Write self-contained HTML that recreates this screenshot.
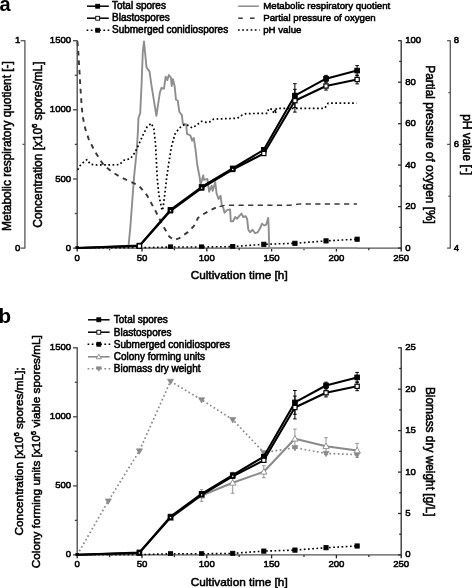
<!DOCTYPE html>
<html lang="en"><head><meta charset="utf-8"><title>Spore concentration during cultivation</title>
<style>
html,body{margin:0;padding:0;background:#fff;}
body{width:472px;height:588px;overflow:hidden;}
svg{display:block;}
svg text{font-family:"Liberation Sans",Arial,Helvetica,sans-serif;fill:#000;stroke:#000;stroke-width:0.55px;}
</style></head><body>
<svg width="472" height="588" viewBox="0 0 472 588">
<rect x="0" y="0" width="472" height="588" fill="#fff"/>
<text x="-0.5" y="11.0" font-size="20" text-anchor="start" font-weight="bold" style="stroke:none">a</text>
<line x1="87.0" y1="6.2" x2="108.8" y2="6.2" stroke="#000" stroke-width="1.5" />
<rect x="95.75" y="4.30" width="3.9" height="3.9" fill="#000" stroke="#000" stroke-width="0.9"/>
<text x="112.0" y="9.3" font-size="10.0" text-anchor="start" >Total spores</text>
<line x1="87.0" y1="18.2" x2="108.8" y2="18.2" stroke="#000" stroke-width="1.5" />
<rect x="95.75" y="16.30" width="3.9" height="3.9" fill="#fff" stroke="#000" stroke-width="0.9"/>
<text x="112.0" y="21.4" font-size="10.0" text-anchor="start" >Blastospores</text>
<line x1="86.6" y1="30.2" x2="109.6" y2="30.2" stroke="#000" stroke-width="1.5" stroke-dasharray="1.7 2.5"/>
<rect x="95.75" y="28.30" width="3.9" height="3.9" fill="#000" stroke="#000" stroke-width="0.9"/>
<text x="112.0" y="33.4" font-size="10.0" text-anchor="start" >Submerged conidiospores</text>
<line x1="238.2" y1="6.2" x2="258.8" y2="6.2" stroke="#8a8a8a" stroke-width="1.5" />
<line x1="238.2" y1="18.2" x2="242.8" y2="18.2" stroke="#383838" stroke-width="1.5" />
<line x1="250.0" y1="18.2" x2="254.6" y2="18.2" stroke="#383838" stroke-width="1.5" />
<line x1="238.0" y1="29.9" x2="259.6" y2="29.9" stroke="#000" stroke-width="1.5" stroke-dasharray="1.7 2.5"/>
<text x="263.2" y="9.3" font-size="9.7" text-anchor="start" >Metabolic respiratory quotient</text>
<text x="263.2" y="21.4" font-size="9.7" text-anchor="start" >Partial pressure of oxygen</text>
<text x="263.2" y="33.4" font-size="9.7" text-anchor="start" >pH value</text>
<line x1="24.9" y1="248.6" x2="24.9" y2="40.2" stroke="#555" stroke-width="1.3" />
<line x1="20.7" y1="248.1" x2="24.9" y2="248.1" stroke="#555" stroke-width="1.3" />
<text x="20.3" y="250.6" font-size="9.6" text-anchor="end" >0</text>
<line x1="22.5" y1="144.4" x2="24.9" y2="144.4" stroke="#555" stroke-width="1.3" />
<line x1="20.7" y1="40.7" x2="24.9" y2="40.7" stroke="#555" stroke-width="1.3" />
<text x="20.3" y="43.2" font-size="9.6" text-anchor="end" >1</text>
<line x1="77.2" y1="248.6" x2="77.2" y2="40.2" stroke="#444" stroke-width="1.3" />
<line x1="73.0" y1="248.1" x2="77.2" y2="248.1" stroke="#444" stroke-width="1.3" />
<text x="71.2" y="250.6" font-size="9.6" text-anchor="end" >0</text>
<line x1="74.8" y1="213.5" x2="77.2" y2="213.5" stroke="#444" stroke-width="1.3" />
<line x1="73.0" y1="179.0" x2="77.2" y2="179.0" stroke="#444" stroke-width="1.3" />
<text x="71.2" y="181.5" font-size="9.6" text-anchor="end" >500</text>
<line x1="74.8" y1="144.4" x2="77.2" y2="144.4" stroke="#444" stroke-width="1.3" />
<line x1="73.0" y1="109.8" x2="77.2" y2="109.8" stroke="#444" stroke-width="1.3" />
<text x="71.2" y="112.3" font-size="9.6" text-anchor="end" >1000</text>
<line x1="74.8" y1="75.3" x2="77.2" y2="75.3" stroke="#444" stroke-width="1.3" />
<line x1="73.0" y1="40.7" x2="77.2" y2="40.7" stroke="#444" stroke-width="1.3" />
<text x="71.2" y="43.2" font-size="9.6" text-anchor="end" >1500</text>
<line x1="76.7" y1="248.1" x2="401.7" y2="248.1" stroke="#555" stroke-width="1.3" />
<line x1="77.2" y1="248.1" x2="77.2" y2="251.5" stroke="#222" stroke-width="1.3" />
<text x="77.2" y="260.6" font-size="9.6" text-anchor="middle" >0</text>
<line x1="109.6" y1="248.1" x2="109.6" y2="250.3" stroke="#333" stroke-width="1.3" />
<line x1="142.0" y1="248.1" x2="142.0" y2="251.5" stroke="#222" stroke-width="1.3" />
<text x="142.0" y="260.6" font-size="9.6" text-anchor="middle" >50</text>
<line x1="174.4" y1="248.1" x2="174.4" y2="250.3" stroke="#333" stroke-width="1.3" />
<line x1="206.8" y1="248.1" x2="206.8" y2="251.5" stroke="#222" stroke-width="1.3" />
<text x="206.8" y="260.6" font-size="9.6" text-anchor="middle" >100</text>
<line x1="239.2" y1="248.1" x2="239.2" y2="250.3" stroke="#333" stroke-width="1.3" />
<line x1="271.6" y1="248.1" x2="271.6" y2="251.5" stroke="#222" stroke-width="1.3" />
<text x="271.6" y="260.6" font-size="9.6" text-anchor="middle" >150</text>
<line x1="304.0" y1="248.1" x2="304.0" y2="250.3" stroke="#333" stroke-width="1.3" />
<line x1="336.4" y1="248.1" x2="336.4" y2="251.5" stroke="#222" stroke-width="1.3" />
<text x="336.4" y="260.6" font-size="9.6" text-anchor="middle" >200</text>
<line x1="368.8" y1="248.1" x2="368.8" y2="250.3" stroke="#333" stroke-width="1.3" />
<line x1="401.2" y1="248.1" x2="401.2" y2="251.5" stroke="#222" stroke-width="1.3" />
<text x="401.2" y="260.6" font-size="9.6" text-anchor="middle" >250</text>
<line x1="401.2" y1="248.6" x2="401.2" y2="40.2" stroke="#2a2a2a" stroke-width="1.3" />
<line x1="398.0" y1="248.1" x2="401.2" y2="248.1" stroke="#2a2a2a" stroke-width="1.3" />
<text x="405.2" y="250.6" font-size="9.6" text-anchor="start" >0</text>
<line x1="399.2" y1="227.4" x2="401.2" y2="227.4" stroke="#2a2a2a" stroke-width="1.3" />
<line x1="398.0" y1="206.6" x2="401.2" y2="206.6" stroke="#2a2a2a" stroke-width="1.3" />
<text x="405.2" y="209.1" font-size="9.6" text-anchor="start" >20</text>
<line x1="399.2" y1="185.9" x2="401.2" y2="185.9" stroke="#2a2a2a" stroke-width="1.3" />
<line x1="398.0" y1="165.1" x2="401.2" y2="165.1" stroke="#2a2a2a" stroke-width="1.3" />
<text x="405.2" y="167.6" font-size="9.6" text-anchor="start" >40</text>
<line x1="399.2" y1="144.4" x2="401.2" y2="144.4" stroke="#2a2a2a" stroke-width="1.3" />
<line x1="398.0" y1="123.7" x2="401.2" y2="123.7" stroke="#2a2a2a" stroke-width="1.3" />
<text x="405.2" y="126.2" font-size="9.6" text-anchor="start" >60</text>
<line x1="399.2" y1="102.9" x2="401.2" y2="102.9" stroke="#2a2a2a" stroke-width="1.3" />
<line x1="398.0" y1="82.2" x2="401.2" y2="82.2" stroke="#2a2a2a" stroke-width="1.3" />
<text x="405.2" y="84.7" font-size="9.6" text-anchor="start" >80</text>
<line x1="399.2" y1="61.4" x2="401.2" y2="61.4" stroke="#2a2a2a" stroke-width="1.3" />
<line x1="398.0" y1="40.7" x2="401.2" y2="40.7" stroke="#2a2a2a" stroke-width="1.3" />
<text x="405.2" y="43.2" font-size="9.6" text-anchor="start" >100</text>
<line x1="450.3" y1="248.6" x2="450.3" y2="40.2" stroke="#555" stroke-width="1.3" />
<line x1="447.1" y1="248.1" x2="450.3" y2="248.1" stroke="#555" stroke-width="1.3" />
<text x="453.7" y="250.6" font-size="9.6" text-anchor="start" >4</text>
<line x1="448.3" y1="196.2" x2="450.3" y2="196.2" stroke="#555" stroke-width="1.3" />
<line x1="447.1" y1="144.4" x2="450.3" y2="144.4" stroke="#555" stroke-width="1.3" />
<text x="453.7" y="146.9" font-size="9.6" text-anchor="start" >6</text>
<line x1="448.3" y1="92.6" x2="450.3" y2="92.6" stroke="#555" stroke-width="1.3" />
<line x1="447.1" y1="40.7" x2="450.3" y2="40.7" stroke="#555" stroke-width="1.3" />
<text x="453.7" y="43.2" font-size="9.6" text-anchor="start" >8</text>
<text transform="translate(11.4,146.1) rotate(-90)" font-size="11.9" text-anchor="middle">Metabolic respiratory quotient [-]</text>
<text transform="translate(41.6,144.6) rotate(-90)" font-size="11.9" text-anchor="middle">Concentration [x10<tspan font-size="7.6" dy="-4.2">6</tspan><tspan dy="4.2"> </tspan>spores/mL]</text>
<text transform="translate(425.8,144.6) rotate(90)" font-size="11.9" text-anchor="middle">Partial pressure of oxygen [%]</text>
<text transform="translate(463.2,144.6) rotate(90)" font-size="11.9" text-anchor="middle">pH value [-]</text>
<text x="239.2" y="278.9" font-size="11.8" text-anchor="middle" >Cultivation time [h]</text>
<polyline points="77.4,248.1 128.3,248.1 130.3,227.6 134.1,176.5 136.7,151.0 138.0,130.0 138.4,118.4 140.2,113.3 141.5,86.0 142.8,52.0 144.0,41.5 145.0,52.0 146.5,67.3 149.6,71.6 151.3,84.4 156.4,115.9 159.8,92.9 161.5,87.8 164.0,88.6 165.7,76.7 167.4,80.1 168.8,75.0 170.9,77.6 171.7,86.0 172.9,79.3 174.6,86.0 176.0,99.7 177.7,100.5 179.4,112.0 181.9,115.1 182.8,123.6 186.2,124.5 187.0,133.8 190.4,135.5 192.1,140.6 193.8,138.1 195.5,149.1 197.2,164.5 199.8,178.1 200.6,184.9 203.2,175.5 204.0,179.8 207.4,178.9 209.1,191.7 211.7,185.7 212.6,190.9 215.2,182.2 216.6,193.5 218.5,199.0 220.6,195.8 221.9,206.0 223.3,207.7 224.5,212.8 227.0,210.2 230.1,209.4 230.8,221.3 233.0,221.3 235.2,217.0 237.2,218.7 239.8,215.3 241.5,213.6 243.2,217.0 245.7,216.2 247.1,218.7 248.3,229.8 250.0,232.3 252.6,229.8 255.1,233.2 257.7,232.3 260.2,228.1 261.9,223.8 264.5,225.5 266.2,224.7 268.2,217.9 268.7,228.0 269.2,248.1 357.1,248.1" fill="none" stroke="#8e8e8e" stroke-width="1.9" stroke-linejoin="round" />
<polyline points="77.4,41.4 78.3,51.6 78.9,61.8 79.6,73.3 80.2,84.2 80.9,95.0 81.7,106.5 82.8,117.0 85.3,128.9 88.7,139.1 93.8,149.4 98.9,157.9 104.0,165.5 112.6,172.3 121.1,177.4 130.0,181.6 138.5,185.2 147.0,195.3 155.5,210.9 162.3,224.5 169.1,236.4 173.9,240.1 179.4,238.1 187.9,232.1 193.8,226.2 198.1,217.7 203.2,214.3 209.1,210.9 216.0,207.5" fill="none" stroke="#383838" stroke-width="1.9" stroke-linejoin="round" stroke-dasharray="4.7 4.8"/>
<polyline points="216.0,207.5 225.0,205.3 290.0,205.2 300.0,203.9 357.0,203.9" fill="none" stroke="#383838" stroke-width="1.45" stroke-linejoin="round" stroke-dasharray="5.2 4.4" stroke-dashoffset="6"/>
<polyline points="77.7,169.8 80.2,165.5 84.5,161.3 87.0,159.6 90.4,164.3 97.2,165.0 119.4,164.7 123.6,160.4 130.4,158.7 134.7,152.8 138.1,146.0 143.2,134.5 147.0,127.0 151.3,123.3 153.8,128.7 155.5,144.0 156.4,161.0 157.2,178.0 158.9,195.1 161.5,207.9 162.5,210.5 163.4,205.3 164.9,193.4 166.6,178.0 169.1,161.0 171.7,145.7 175.1,133.8 179.4,127.9 184.5,124.5 187.9,125.3 192.1,127.9 196.4,125.3 201.5,121.3 206.6,122.4 210.2,121.7 213.6,119.1 237.4,118.3 240.9,115.7 246.0,113.6 267.5,113.3 268.6,108.6 273.0,109.5 277.3,111.8 272.6,112.8 276.8,108.3 324.7,108.3 328.1,103.2 356.6,103.2" fill="none" stroke="#000" stroke-width="1.7" stroke-linejoin="round" stroke-dasharray="1.7 2.5"/>
<clipPath id="clipA"><rect x="60" y="18.1" width="360" height="230.75"/></clipPath>
<g clip-path="url(#clipA)">
<polyline points="77.2,248.0 139.4,247.8 170.5,247.0 201.6,247.0 232.7,246.6 263.8,244.3 294.9,243.3 326.0,240.9 357.1,239.2" fill="none" stroke="#000" stroke-width="1.6" stroke-linejoin="round" stroke-dasharray="1.7 2.5"/>
<rect x="75.90" y="246.70" width="2.6" height="2.6" fill="#000" stroke="#000" stroke-width="0.9"/>
<rect x="137.31" y="245.70" width="4.2" height="4.2" fill="#000" stroke="#000" stroke-width="0.9"/>
<rect x="168.41" y="244.90" width="4.2" height="4.2" fill="#000" stroke="#000" stroke-width="0.9"/>
<rect x="199.52" y="244.90" width="4.2" height="4.2" fill="#000" stroke="#000" stroke-width="0.9"/>
<rect x="230.62" y="244.50" width="4.2" height="4.2" fill="#000" stroke="#000" stroke-width="0.9"/>
<rect x="261.72" y="242.20" width="4.2" height="4.2" fill="#000" stroke="#000" stroke-width="0.9"/>
<rect x="292.83" y="241.20" width="4.2" height="4.2" fill="#000" stroke="#000" stroke-width="0.9"/>
<rect x="323.93" y="238.80" width="4.2" height="4.2" fill="#000" stroke="#000" stroke-width="0.9"/>
<rect x="355.04" y="237.10" width="4.2" height="4.2" fill="#000" stroke="#000" stroke-width="0.9"/>
</g>
<polyline points="77.2,247.9 139.4,246.1 170.5,210.8 201.6,188.1 232.7,169.5 263.8,153.5 294.9,100.7 326.0,86.0 357.1,79.5" fill="none" stroke="#000" stroke-width="2.05" stroke-linejoin="round" />
<polyline points="77.2,247.9 139.4,245.6 170.5,209.8 201.6,187.0 232.7,168.4 263.8,149.8 294.9,95.6 326.0,78.7 357.1,70.6" fill="none" stroke="#000" stroke-width="2.05" stroke-linejoin="round" />
<line x1="294.9" y1="83.7" x2="294.9" y2="107.5" stroke="#000" stroke-width="1.0" />
<line x1="293.1" y1="83.7" x2="296.7" y2="83.7" stroke="#000" stroke-width="1.0" />
<line x1="293.1" y1="107.5" x2="296.7" y2="107.5" stroke="#000" stroke-width="1.0" />
<line x1="294.9" y1="89.3" x2="294.9" y2="112.1" stroke="#000" stroke-width="1.0" />
<line x1="293.1" y1="89.3" x2="296.7" y2="89.3" stroke="#000" stroke-width="1.0" />
<line x1="293.1" y1="112.1" x2="296.7" y2="112.1" stroke="#000" stroke-width="1.0" />
<line x1="326.0" y1="75.4" x2="326.0" y2="82.0" stroke="#000" stroke-width="1.0" />
<line x1="324.2" y1="75.4" x2="327.8" y2="75.4" stroke="#000" stroke-width="1.0" />
<line x1="324.2" y1="82.0" x2="327.8" y2="82.0" stroke="#000" stroke-width="1.0" />
<line x1="326.0" y1="81.9" x2="326.0" y2="90.1" stroke="#000" stroke-width="1.0" />
<line x1="324.2" y1="81.9" x2="327.8" y2="81.9" stroke="#000" stroke-width="1.0" />
<line x1="324.2" y1="90.1" x2="327.8" y2="90.1" stroke="#000" stroke-width="1.0" />
<line x1="357.1" y1="65.6" x2="357.1" y2="75.6" stroke="#000" stroke-width="1.0" />
<line x1="355.3" y1="65.6" x2="358.9" y2="65.6" stroke="#000" stroke-width="1.0" />
<line x1="355.3" y1="75.6" x2="358.9" y2="75.6" stroke="#000" stroke-width="1.0" />
<line x1="357.1" y1="75.1" x2="357.1" y2="83.9" stroke="#000" stroke-width="1.0" />
<line x1="355.3" y1="75.1" x2="358.9" y2="75.1" stroke="#000" stroke-width="1.0" />
<line x1="355.3" y1="83.9" x2="358.9" y2="83.9" stroke="#000" stroke-width="1.0" />
<line x1="263.8" y1="148.3" x2="263.8" y2="151.3" stroke="#000" stroke-width="1.0" />
<line x1="262.0" y1="148.3" x2="265.6" y2="148.3" stroke="#000" stroke-width="1.0" />
<line x1="262.0" y1="151.3" x2="265.6" y2="151.3" stroke="#000" stroke-width="1.0" />
<line x1="263.8" y1="152.0" x2="263.8" y2="155.0" stroke="#000" stroke-width="1.0" />
<line x1="262.0" y1="152.0" x2="265.6" y2="152.0" stroke="#000" stroke-width="1.0" />
<line x1="262.0" y1="155.0" x2="265.6" y2="155.0" stroke="#000" stroke-width="1.0" />
<rect x="137.06" y="243.25" width="4.7" height="4.7" fill="#000" stroke="#000" stroke-width="0.9"/>
<rect x="137.31" y="244.00" width="4.2" height="4.2" fill="#fff" stroke="#000" stroke-width="1.2"/>
<rect x="168.16" y="207.45" width="4.7" height="4.7" fill="#000" stroke="#000" stroke-width="0.9"/>
<rect x="168.86" y="209.15" width="3.3" height="3.3" fill="#fff" stroke="#000" stroke-width="2.0"/>
<rect x="199.27" y="184.65" width="4.7" height="4.7" fill="#000" stroke="#000" stroke-width="0.9"/>
<rect x="199.97" y="186.45" width="3.3" height="3.3" fill="#fff" stroke="#000" stroke-width="2.0"/>
<rect x="230.37" y="166.05" width="4.7" height="4.7" fill="#000" stroke="#000" stroke-width="0.9"/>
<rect x="231.07" y="167.85" width="3.3" height="3.3" fill="#fff" stroke="#000" stroke-width="2.0"/>
<rect x="261.47" y="147.45" width="4.7" height="4.7" fill="#000" stroke="#000" stroke-width="0.9"/>
<rect x="261.72" y="151.40" width="4.2" height="4.2" fill="#fff" stroke="#000" stroke-width="1.2"/>
<rect x="292.58" y="93.25" width="4.7" height="4.7" fill="#000" stroke="#000" stroke-width="0.9"/>
<rect x="292.83" y="98.60" width="4.2" height="4.2" fill="#fff" stroke="#000" stroke-width="1.2"/>
<rect x="323.68" y="76.35" width="4.7" height="4.7" fill="#000" stroke="#000" stroke-width="0.9"/>
<rect x="323.93" y="83.90" width="4.2" height="4.2" fill="#fff" stroke="#000" stroke-width="1.2"/>
<rect x="354.79" y="68.25" width="4.7" height="4.7" fill="#000" stroke="#000" stroke-width="0.9"/>
<rect x="355.04" y="77.40" width="4.2" height="4.2" fill="#fff" stroke="#000" stroke-width="1.2"/>
<text x="-1.4" y="322.5" font-size="20.6" text-anchor="start" font-weight="bold" style="stroke:none">b</text>
<line x1="88.0" y1="319.8" x2="109.6" y2="319.8" stroke="#000" stroke-width="1.5" />
<rect x="96.85" y="317.80" width="3.9" height="3.9" fill="#000" stroke="#000" stroke-width="0.9"/>
<text x="113.8" y="323.1" font-size="10.0" text-anchor="start" >Total spores</text>
<line x1="88.0" y1="332.2" x2="109.6" y2="332.2" stroke="#000" stroke-width="1.5" />
<rect x="96.85" y="330.30" width="3.9" height="3.9" fill="#fff" stroke="#000" stroke-width="0.9"/>
<text x="113.8" y="335.6" font-size="10.0" text-anchor="start" >Blastospores</text>
<line x1="87.6" y1="344.2" x2="110.6" y2="344.2" stroke="#000" stroke-width="1.5" stroke-dasharray="1.7 2.5"/>
<rect x="96.85" y="342.30" width="3.9" height="3.9" fill="#000" stroke="#000" stroke-width="0.9"/>
<text x="113.8" y="347.6" font-size="10.0" text-anchor="start" >Submerged conidiospores</text>
<line x1="88.0" y1="356.8" x2="109.6" y2="356.8" stroke="#8a8a8a" stroke-width="1.6" />
<polygon points="96.20,358.75 101.40,358.75 98.80,354.15" fill="#fff" stroke="#8a8a8a" stroke-width="0.9"/>
<text x="113.8" y="360.1" font-size="10.0" text-anchor="start" >Colony forming units</text>
<line x1="87.6" y1="368.8" x2="110.6" y2="368.8" stroke="#8a8a8a" stroke-width="1.4" stroke-dasharray="1.7 2.5"/>
<polygon points="96.10,366.75 101.50,366.75 98.80,371.35" fill="#8a8a8a" stroke="#8a8a8a" stroke-width="0.6"/>
<text x="113.8" y="372.1" font-size="10.0" text-anchor="start" >Biomass dry weight</text>
<line x1="77.2" y1="555.4" x2="77.2" y2="347.3" stroke="#444" stroke-width="1.3" />
<line x1="73.0" y1="554.9" x2="77.2" y2="554.9" stroke="#444" stroke-width="1.3" />
<text x="71.2" y="557.4" font-size="9.6" text-anchor="end" >0</text>
<line x1="74.8" y1="520.4" x2="77.2" y2="520.4" stroke="#444" stroke-width="1.3" />
<line x1="73.0" y1="485.9" x2="77.2" y2="485.9" stroke="#444" stroke-width="1.3" />
<text x="71.2" y="488.4" font-size="9.6" text-anchor="end" >500</text>
<line x1="74.8" y1="451.3" x2="77.2" y2="451.3" stroke="#444" stroke-width="1.3" />
<line x1="73.0" y1="416.8" x2="77.2" y2="416.8" stroke="#444" stroke-width="1.3" />
<text x="71.2" y="419.3" font-size="9.6" text-anchor="end" >1000</text>
<line x1="74.8" y1="382.3" x2="77.2" y2="382.3" stroke="#444" stroke-width="1.3" />
<line x1="73.0" y1="347.8" x2="77.2" y2="347.8" stroke="#444" stroke-width="1.3" />
<text x="71.2" y="350.3" font-size="9.6" text-anchor="end" >1500</text>
<line x1="76.7" y1="554.9" x2="401.7" y2="554.9" stroke="#555" stroke-width="1.3" />
<line x1="77.2" y1="554.9" x2="77.2" y2="558.3" stroke="#222" stroke-width="1.3" />
<text x="77.2" y="567.4" font-size="9.6" text-anchor="middle" >0</text>
<line x1="109.6" y1="554.9" x2="109.6" y2="557.1" stroke="#333" stroke-width="1.3" />
<line x1="142.0" y1="554.9" x2="142.0" y2="558.3" stroke="#222" stroke-width="1.3" />
<text x="142.0" y="567.4" font-size="9.6" text-anchor="middle" >50</text>
<line x1="174.4" y1="554.9" x2="174.4" y2="557.1" stroke="#333" stroke-width="1.3" />
<line x1="206.8" y1="554.9" x2="206.8" y2="558.3" stroke="#222" stroke-width="1.3" />
<text x="206.8" y="567.4" font-size="9.6" text-anchor="middle" >100</text>
<line x1="239.2" y1="554.9" x2="239.2" y2="557.1" stroke="#333" stroke-width="1.3" />
<line x1="271.6" y1="554.9" x2="271.6" y2="558.3" stroke="#222" stroke-width="1.3" />
<text x="271.6" y="567.4" font-size="9.6" text-anchor="middle" >150</text>
<line x1="304.0" y1="554.9" x2="304.0" y2="557.1" stroke="#333" stroke-width="1.3" />
<line x1="336.4" y1="554.9" x2="336.4" y2="558.3" stroke="#222" stroke-width="1.3" />
<text x="336.4" y="567.4" font-size="9.6" text-anchor="middle" >200</text>
<line x1="368.8" y1="554.9" x2="368.8" y2="557.1" stroke="#333" stroke-width="1.3" />
<line x1="401.2" y1="554.9" x2="401.2" y2="558.3" stroke="#222" stroke-width="1.3" />
<text x="401.2" y="567.4" font-size="9.6" text-anchor="middle" >250</text>
<line x1="401.2" y1="555.4" x2="401.2" y2="347.3" stroke="#2a2a2a" stroke-width="1.3" />
<line x1="398.0" y1="554.9" x2="401.2" y2="554.9" stroke="#2a2a2a" stroke-width="1.3" />
<text x="405.2" y="557.4" font-size="9.6" text-anchor="start" >0</text>
<line x1="399.2" y1="534.2" x2="401.2" y2="534.2" stroke="#2a2a2a" stroke-width="1.3" />
<line x1="398.0" y1="513.5" x2="401.2" y2="513.5" stroke="#2a2a2a" stroke-width="1.3" />
<text x="405.2" y="516.0" font-size="9.6" text-anchor="start" >5</text>
<line x1="399.2" y1="492.8" x2="401.2" y2="492.8" stroke="#2a2a2a" stroke-width="1.3" />
<line x1="398.0" y1="472.1" x2="401.2" y2="472.1" stroke="#2a2a2a" stroke-width="1.3" />
<text x="405.2" y="474.6" font-size="9.6" text-anchor="start" >10</text>
<line x1="399.2" y1="451.4" x2="401.2" y2="451.4" stroke="#2a2a2a" stroke-width="1.3" />
<line x1="398.0" y1="430.6" x2="401.2" y2="430.6" stroke="#2a2a2a" stroke-width="1.3" />
<text x="405.2" y="433.1" font-size="9.6" text-anchor="start" >15</text>
<line x1="399.2" y1="409.9" x2="401.2" y2="409.9" stroke="#2a2a2a" stroke-width="1.3" />
<line x1="398.0" y1="389.2" x2="401.2" y2="389.2" stroke="#2a2a2a" stroke-width="1.3" />
<text x="405.2" y="391.7" font-size="9.6" text-anchor="start" >20</text>
<line x1="399.2" y1="368.5" x2="401.2" y2="368.5" stroke="#2a2a2a" stroke-width="1.3" />
<line x1="398.0" y1="347.8" x2="401.2" y2="347.8" stroke="#2a2a2a" stroke-width="1.3" />
<text x="405.2" y="350.3" font-size="9.6" text-anchor="start" >25</text>
<text transform="translate(23.3,451.4) rotate(-90)" font-size="11.8" text-anchor="middle">Concentration [x10<tspan font-size="7.6" dy="-4.2">6</tspan><tspan dy="4.2"> </tspan>spores/mL];</text>
<text transform="translate(40.3,451.7) rotate(-90)" font-size="11.8" text-anchor="middle">Colony forming units [x10<tspan font-size="7.6" dy="-4.2">6</tspan><tspan dy="4.2"> </tspan>viable spores/mL]</text>
<text transform="translate(425.8,451.7) rotate(90)" font-size="11.9" text-anchor="middle">Biomass dry weight [g/L]</text>
<text x="239.2" y="585.8" font-size="11.8" text-anchor="middle" >Cultivation time [h]</text>
<polyline points="77.2,554.9 108.3,501.0 139.4,450.9 170.5,381.3 201.6,399.8 232.7,419.6 263.8,452.5 294.9,447.7 326.0,453.4 357.1,454.7" fill="none" stroke="#8a8a8a" stroke-width="1.7" stroke-linejoin="round" stroke-dasharray="1.7 2.5"/>
<polyline points="170.5,518.0 201.6,495.5 232.7,482.8 263.8,471.7 294.9,438.7 326.0,446.2 357.1,450.4" fill="none" stroke="#8a8a8a" stroke-width="2.0" stroke-linejoin="round" />
<line x1="263.8" y1="465.7" x2="263.8" y2="477.7" stroke="#8a8a8a" stroke-width="0.9" />
<line x1="262.0" y1="465.7" x2="265.6" y2="465.7" stroke="#8a8a8a" stroke-width="0.9" />
<line x1="262.0" y1="477.7" x2="265.6" y2="477.7" stroke="#8a8a8a" stroke-width="0.9" />
<line x1="294.9" y1="429.1" x2="294.9" y2="448.3" stroke="#8a8a8a" stroke-width="0.9" />
<line x1="293.1" y1="429.1" x2="296.7" y2="429.1" stroke="#8a8a8a" stroke-width="0.9" />
<line x1="293.1" y1="448.3" x2="296.7" y2="448.3" stroke="#8a8a8a" stroke-width="0.9" />
<line x1="326.0" y1="437.7" x2="326.0" y2="454.7" stroke="#8a8a8a" stroke-width="0.9" />
<line x1="324.2" y1="437.7" x2="327.8" y2="437.7" stroke="#8a8a8a" stroke-width="0.9" />
<line x1="324.2" y1="454.7" x2="327.8" y2="454.7" stroke="#8a8a8a" stroke-width="0.9" />
<line x1="357.1" y1="443.4" x2="357.1" y2="457.4" stroke="#8a8a8a" stroke-width="0.9" />
<line x1="355.3" y1="443.4" x2="358.9" y2="443.4" stroke="#8a8a8a" stroke-width="0.9" />
<line x1="355.3" y1="457.4" x2="358.9" y2="457.4" stroke="#8a8a8a" stroke-width="0.9" />
<line x1="232.7" y1="472.3" x2="232.7" y2="493.3" stroke="#8a8a8a" stroke-width="0.9" />
<line x1="230.9" y1="472.3" x2="234.5" y2="472.3" stroke="#8a8a8a" stroke-width="0.9" />
<line x1="230.9" y1="493.3" x2="234.5" y2="493.3" stroke="#8a8a8a" stroke-width="0.9" />
<line x1="201.6" y1="489.7" x2="201.6" y2="501.3" stroke="#8a8a8a" stroke-width="0.9" />
<line x1="199.8" y1="489.7" x2="203.4" y2="489.7" stroke="#8a8a8a" stroke-width="0.9" />
<line x1="199.8" y1="501.3" x2="203.4" y2="501.3" stroke="#8a8a8a" stroke-width="0.9" />
<polygon points="105.20,498.90 111.40,498.90 108.30,504.30" fill="#8a8a8a" stroke="#8a8a8a" stroke-width="0.6"/>
<polygon points="136.31,448.80 142.51,448.80 139.41,454.20" fill="#8a8a8a" stroke="#8a8a8a" stroke-width="0.6"/>
<polygon points="167.41,379.20 173.61,379.20 170.51,384.60" fill="#8a8a8a" stroke="#8a8a8a" stroke-width="0.6"/>
<polygon points="198.52,397.70 204.72,397.70 201.62,403.10" fill="#8a8a8a" stroke="#8a8a8a" stroke-width="0.6"/>
<polygon points="229.62,417.50 235.82,417.50 232.72,422.90" fill="#8a8a8a" stroke="#8a8a8a" stroke-width="0.6"/>
<polygon points="260.72,450.40 266.92,450.40 263.82,455.80" fill="#8a8a8a" stroke="#8a8a8a" stroke-width="0.6"/>
<polygon points="291.83,445.60 298.03,445.60 294.93,451.00" fill="#8a8a8a" stroke="#8a8a8a" stroke-width="0.6"/>
<polygon points="322.93,451.30 329.13,451.30 326.03,456.70" fill="#8a8a8a" stroke="#8a8a8a" stroke-width="0.6"/>
<polygon points="354.04,452.60 360.24,452.60 357.14,458.00" fill="#8a8a8a" stroke="#8a8a8a" stroke-width="0.6"/>
<polygon points="167.41,520.40 173.61,520.40 170.51,514.80" fill="#fff" stroke="#8a8a8a" stroke-width="0.9"/>
<polygon points="198.52,497.90 204.72,497.90 201.62,492.30" fill="#fff" stroke="#8a8a8a" stroke-width="0.9"/>
<polygon points="229.62,485.20 235.82,485.20 232.72,479.60" fill="#fff" stroke="#8a8a8a" stroke-width="0.9"/>
<polygon points="260.72,474.10 266.92,474.10 263.82,468.50" fill="#fff" stroke="#8a8a8a" stroke-width="0.9"/>
<polygon points="291.83,441.10 298.03,441.10 294.93,435.50" fill="#fff" stroke="#8a8a8a" stroke-width="0.9"/>
<polygon points="322.93,448.60 329.13,448.60 326.03,443.00" fill="#fff" stroke="#8a8a8a" stroke-width="0.9"/>
<polygon points="354.04,452.80 360.24,452.80 357.14,447.20" fill="#fff" stroke="#8a8a8a" stroke-width="0.9"/>
<clipPath id="clipB"><rect x="60" y="324.9" width="360" height="230.75"/></clipPath>
<g clip-path="url(#clipB)">
<polyline points="77.2,554.8 139.4,554.6 170.5,553.8 201.6,553.8 232.7,553.4 263.8,551.1 294.9,550.1 326.0,547.7 357.1,546.0" fill="none" stroke="#000" stroke-width="1.6" stroke-linejoin="round" stroke-dasharray="1.7 2.5"/>
<rect x="75.90" y="553.50" width="2.6" height="2.6" fill="#000" stroke="#000" stroke-width="0.9"/>
<rect x="137.31" y="552.50" width="4.2" height="4.2" fill="#000" stroke="#000" stroke-width="0.9"/>
<rect x="168.41" y="551.70" width="4.2" height="4.2" fill="#000" stroke="#000" stroke-width="0.9"/>
<rect x="199.52" y="551.70" width="4.2" height="4.2" fill="#000" stroke="#000" stroke-width="0.9"/>
<rect x="230.62" y="551.30" width="4.2" height="4.2" fill="#000" stroke="#000" stroke-width="0.9"/>
<rect x="261.72" y="549.00" width="4.2" height="4.2" fill="#000" stroke="#000" stroke-width="0.9"/>
<rect x="292.83" y="548.00" width="4.2" height="4.2" fill="#000" stroke="#000" stroke-width="0.9"/>
<rect x="323.93" y="545.60" width="4.2" height="4.2" fill="#000" stroke="#000" stroke-width="0.9"/>
<rect x="355.04" y="543.90" width="4.2" height="4.2" fill="#000" stroke="#000" stroke-width="0.9"/>
</g>
<polyline points="77.2,554.7 139.4,552.9 170.5,517.6 201.6,494.9 232.7,476.3 263.8,460.3 294.9,407.5 326.0,392.8 357.1,386.3" fill="none" stroke="#000" stroke-width="2.05" stroke-linejoin="round" />
<polyline points="77.2,554.7 139.4,552.4 170.5,516.6 201.6,493.8 232.7,475.2 263.8,456.6 294.9,402.4 326.0,385.5 357.1,377.4" fill="none" stroke="#000" stroke-width="2.05" stroke-linejoin="round" />
<line x1="294.9" y1="390.5" x2="294.9" y2="414.3" stroke="#000" stroke-width="1.0" />
<line x1="293.1" y1="390.5" x2="296.7" y2="390.5" stroke="#000" stroke-width="1.0" />
<line x1="293.1" y1="414.3" x2="296.7" y2="414.3" stroke="#000" stroke-width="1.0" />
<line x1="294.9" y1="396.1" x2="294.9" y2="418.9" stroke="#000" stroke-width="1.0" />
<line x1="293.1" y1="396.1" x2="296.7" y2="396.1" stroke="#000" stroke-width="1.0" />
<line x1="293.1" y1="418.9" x2="296.7" y2="418.9" stroke="#000" stroke-width="1.0" />
<line x1="326.0" y1="382.2" x2="326.0" y2="388.8" stroke="#000" stroke-width="1.0" />
<line x1="324.2" y1="382.2" x2="327.8" y2="382.2" stroke="#000" stroke-width="1.0" />
<line x1="324.2" y1="388.8" x2="327.8" y2="388.8" stroke="#000" stroke-width="1.0" />
<line x1="326.0" y1="388.7" x2="326.0" y2="396.9" stroke="#000" stroke-width="1.0" />
<line x1="324.2" y1="388.7" x2="327.8" y2="388.7" stroke="#000" stroke-width="1.0" />
<line x1="324.2" y1="396.9" x2="327.8" y2="396.9" stroke="#000" stroke-width="1.0" />
<line x1="357.1" y1="372.4" x2="357.1" y2="382.4" stroke="#000" stroke-width="1.0" />
<line x1="355.3" y1="372.4" x2="358.9" y2="372.4" stroke="#000" stroke-width="1.0" />
<line x1="355.3" y1="382.4" x2="358.9" y2="382.4" stroke="#000" stroke-width="1.0" />
<line x1="357.1" y1="381.9" x2="357.1" y2="390.7" stroke="#000" stroke-width="1.0" />
<line x1="355.3" y1="381.9" x2="358.9" y2="381.9" stroke="#000" stroke-width="1.0" />
<line x1="355.3" y1="390.7" x2="358.9" y2="390.7" stroke="#000" stroke-width="1.0" />
<line x1="263.8" y1="455.1" x2="263.8" y2="458.1" stroke="#000" stroke-width="1.0" />
<line x1="262.0" y1="455.1" x2="265.6" y2="455.1" stroke="#000" stroke-width="1.0" />
<line x1="262.0" y1="458.1" x2="265.6" y2="458.1" stroke="#000" stroke-width="1.0" />
<line x1="263.8" y1="458.8" x2="263.8" y2="461.8" stroke="#000" stroke-width="1.0" />
<line x1="262.0" y1="458.8" x2="265.6" y2="458.8" stroke="#000" stroke-width="1.0" />
<line x1="262.0" y1="461.8" x2="265.6" y2="461.8" stroke="#000" stroke-width="1.0" />
<rect x="137.06" y="550.05" width="4.7" height="4.7" fill="#000" stroke="#000" stroke-width="0.9"/>
<rect x="137.76" y="551.25" width="3.3" height="3.3" fill="#fff" stroke="#000" stroke-width="2.0"/>
<rect x="168.16" y="514.25" width="4.7" height="4.7" fill="#000" stroke="#000" stroke-width="0.9"/>
<rect x="168.86" y="515.95" width="3.3" height="3.3" fill="#fff" stroke="#000" stroke-width="2.0"/>
<rect x="199.27" y="491.45" width="4.7" height="4.7" fill="#000" stroke="#000" stroke-width="0.9"/>
<rect x="199.97" y="493.25" width="3.3" height="3.3" fill="#fff" stroke="#000" stroke-width="2.0"/>
<rect x="230.37" y="472.85" width="4.7" height="4.7" fill="#000" stroke="#000" stroke-width="0.9"/>
<rect x="231.07" y="474.65" width="3.3" height="3.3" fill="#fff" stroke="#000" stroke-width="2.0"/>
<rect x="261.47" y="454.25" width="4.7" height="4.7" fill="#000" stroke="#000" stroke-width="0.9"/>
<rect x="261.72" y="458.20" width="4.2" height="4.2" fill="#fff" stroke="#000" stroke-width="1.2"/>
<rect x="292.58" y="400.05" width="4.7" height="4.7" fill="#000" stroke="#000" stroke-width="0.9"/>
<rect x="292.83" y="405.40" width="4.2" height="4.2" fill="#fff" stroke="#000" stroke-width="1.2"/>
<rect x="323.68" y="383.15" width="4.7" height="4.7" fill="#000" stroke="#000" stroke-width="0.9"/>
<rect x="323.93" y="390.70" width="4.2" height="4.2" fill="#fff" stroke="#000" stroke-width="1.2"/>
<rect x="354.79" y="375.05" width="4.7" height="4.7" fill="#000" stroke="#000" stroke-width="0.9"/>
<rect x="355.04" y="384.20" width="4.2" height="4.2" fill="#fff" stroke="#000" stroke-width="1.2"/>
</svg>
</body></html>
